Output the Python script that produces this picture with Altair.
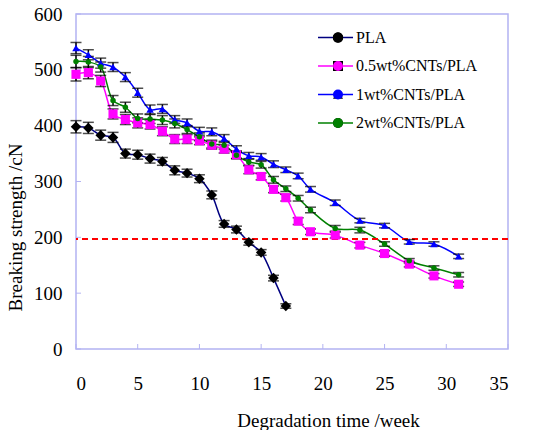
import altair as alt
import pandas as pd

# ---------------- data ----------------
series_names = ["PLA", "0.5wt%CNTs/PLA", "1wt%CNTs/PLA", "2wt%CNTs/PLA"]

weeks_pla = [0, 1, 2, 3, 4, 5, 6, 7, 8, 9, 10, 11, 12, 13, 14, 15, 16, 17]
weeks_cnt = [0, 1, 2, 3, 4, 5, 6, 7, 8, 9, 10, 11, 12, 13, 14, 15, 16, 17, 18, 19,
             21, 23, 25, 27, 29, 31]

pla = [398, 396, 383, 379, 350, 348, 341, 336, 320, 315, 305, 276, 224, 214, 191, 173, 127, 77]
pla_err = [11, 10, 9, 9, 8, 8, 8, 7, 8, 7, 7, 7, 6, 6, 5, 5, 5, 4]

cnt05 = [492, 495, 480, 421, 411, 405, 402, 390, 376, 376, 373, 365, 358, 348, 321, 309,
         286, 271, 229, 210, 204, 186, 171, 152, 131, 116]
cnt05_err = [12, 11, 10, 9, 9, 9, 8, 8, 8, 8, 7, 7, 7, 7, 7, 6, 6, 6, 6, 5, 5, 5, 5, 5, 4, 4]

cnt1 = [539, 527, 512, 505, 487, 459, 429, 430, 411, 405, 390, 389, 377, 358, 346, 344,
        331, 321, 310, 286, 262, 230, 221, 192, 188, 166]
cnt1_err = [10, 9, 9, 8, 8, 8, 8, 8, 7, 7, 7, 7, 7, 6, 6, 6, 6, 5, 5, 5, 5, 4, 4, 4, 4, 4]

cnt2 = [515, 514, 505, 445, 433, 413, 412, 410, 404, 393, 380, 367, 365, 347, 335, 330,
        303, 287, 270, 249, 216, 213, 188, 158, 145, 133]
cnt2_err = [11, 10, 9, 9, 9, 8, 8, 8, 8, 7, 7, 7, 7, 6, 6, 6, 6, 5, 5, 5, 5, 5, 4, 4, 4, 4]

threshold = [197]

x_ticks = [0, 5, 10, 15, 20, 25, 30, 35]
y_ticks = [0, 100, 200, 300, 400, 500, 600]

line_colors = ["#000080", "#FF00FF", "#0000FF", "#008000"]
marker_colors = ["#000000", "#FF00FF", "#0000FF", "#008000"]
marker_shapes = ["diamond", "square", "triangle-up", "circle"]
marker_sizes = [110, 30, 70, 34]

rows = []
for name, xs, ys, es in [
    (series_names[0], weeks_pla, pla, pla_err),
    (series_names[1], weeks_cnt, cnt05, cnt05_err),
    (series_names[2], weeks_cnt, cnt1, cnt1_err),
    (series_names[3], weeks_cnt, cnt2, cnt2_err),
]:
    for x, y, e in zip(xs, ys, es):
        rows.append({"week": x, "strength": y, "err": e, "series": name})
df = pd.DataFrame(rows)

FONT = "Liberation Serif"
AXC = "#b3b3f2"
W, H = 432, 335

xscale = alt.Scale(domain=[0, 35], nice=False)
yscale = alt.Scale(domain=[0, 600], nice=False)

base = alt.Chart(df)

main_x_axis = alt.Axis(values=x_ticks, ticks=False, domain=False, grid=False,
                       labelFont=FONT, labelFontSize=19, labelColor="black",
                       labelPadding=25, labelAngle=0,
                       title="Degradation time /week", titleFont=FONT,
                       titleFontSize=19, titleFontWeight="normal", titleColor="black",
                       titleX=252, titleY=77, titleAlign="center",
                       titleBaseline="alphabetic")
main_y_axis = alt.Axis(values=y_ticks, ticks=False, domain=False, grid=False,
                       labelFont=FONT, labelFontSize=19, labelColor="black",
                       labelPadding=14,
                       title="Breaking strength /cN", titleFont=FONT,
                       titleFontSize=19, titleFontWeight="normal", titleColor="black",
                       titleX=-55, titleY=213, titleAlign="center", titleAngle=270,
                       titleBaseline="alphabetic")

# legend 1: coloured line segments with the series names
legend_lines = alt.Legend(orient="none", legendX=260, legendY=15, title=None,
                          symbolType="M-3.42,0H1.1", symbolSize=240,
                          symbolStrokeWidth=1.5, labelFont=FONT, labelFontSize=16,
                          labelColor="black", labelOffset=3, rowPadding=11.5, padding=0)
# legend 2: the markers, laid on top of the line segments (no label text)
legend_marks = alt.Legend(orient="none", legendX=254, legendY=15.5, title=None,
                          symbolStrokeWidth=0, labelFont=FONT,
                          labelFontSize=16, labelExpr="''", labelOffset=3,
                          rowPadding=12.5, padding=0)

lines = base.mark_line(strokeWidth=1.5, interpolate="catmull-rom").encode(
    x=alt.X("week:Q", scale=xscale, axis=main_x_axis),
    y=alt.Y("strength:Q", scale=yscale, axis=main_y_axis),
    stroke=alt.Stroke("series:N", sort=series_names,
                      scale=alt.Scale(range=line_colors), legend=legend_lines),
    detail="series:N",
)

points = base.transform_calculate(grp="datum.series").mark_point(
    filled=True, opacity=1, strokeWidth=0
).encode(
    x=alt.X("week:Q", scale=xscale),
    y=alt.Y("strength:Q", scale=yscale),
    fill=alt.Fill("grp:N", sort=series_names,
                  scale=alt.Scale(range=marker_colors), legend=legend_marks),
    shape=alt.Shape("grp:N", sort=series_names,
                    scale=alt.Scale(range=marker_shapes), legend=legend_marks),
    size=alt.Size("grp:N", sort=series_names,
                  scale=alt.Scale(range=marker_sizes), legend=legend_marks),
)

err_rules = base.transform_calculate(
    lo="datum.strength - datum.err", hi="datum.strength + datum.err"
).mark_rule(color="black", strokeWidth=1.5).encode(
    x=alt.X("week:Q", scale=xscale),
    y=alt.Y("lo:Q", scale=yscale),
    y2="hi:Q",
)

err_caps = base.transform_calculate(
    lo="datum.strength - datum.err", hi="datum.strength + datum.err"
).transform_fold(["lo", "hi"], as_=["end", "yv"]).mark_tick(
    color="black", orient="horizontal", size=11, thickness=1.5
).encode(
    x=alt.X("week:Q", scale=xscale),
    y=alt.Y("yv:Q", scale=yscale),
)

thr = alt.Chart(pd.DataFrame({"v": threshold})).mark_rule(
    color="#FF0000", strokeWidth=2, strokeDash=[6, 4]
).encode(y=alt.Y("v:Q", scale=yscale))

# inward tick marks on the bottom and left frame edges
xtick_marks = alt.Chart(pd.DataFrame({"t": x_ticks})).mark_rule(
    color=AXC, strokeWidth=1
).encode(x=alt.X("t:Q", scale=xscale), y=alt.value(H), y2=alt.value(H - 5))
ytick_marks = alt.Chart(pd.DataFrame({"t": y_ticks})).mark_rule(
    color=AXC, strokeWidth=1
).encode(y=alt.Y("t:Q", scale=yscale), x=alt.value(0), x2=alt.value(5))

chart = alt.layer(lines, xtick_marks, ytick_marks, thr, err_rules, err_caps, points).properties(
    width=W, height=H,
    background="white",
    autosize=alt.AutoSizeParams(type="none"),
    padding={"left": 68, "top": 6, "right": 34, "bottom": 81},
).configure_view(
    stroke=AXC, strokeWidth=1.5
)

chart.save("out.html", embed_options={"renderer": "svg", "actions": False})
